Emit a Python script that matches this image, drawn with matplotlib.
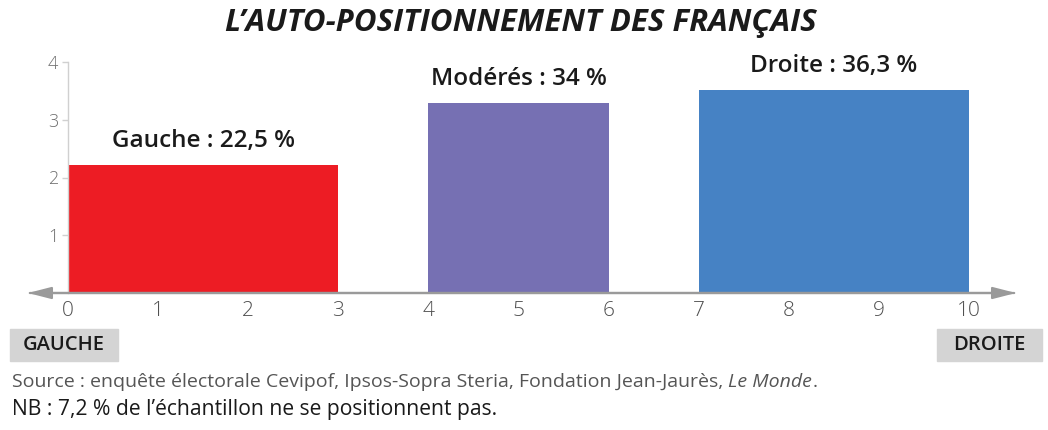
import matplotlib
matplotlib.use("Agg")
import matplotlib.pyplot as plt
from matplotlib.patches import FancyArrowPatch

# ---- data ----
groups = ["Gauche", "Modérés", "Droite"]
starts = [0, 4, 7]
ends = [3, 6, 10]
heights = [2.22, 3.29, 3.52]
labels = ["Gauche : 22,5 %", "Modérés : 34 %", "Droite : 36,3 %"]
colors = ["#ED1C24", "#7670B3", "#4682C4"]
xticks = list(range(0, 11))
yticks = [1, 2, 3, 4]
title = "L\u2019AUTO-POSITIONNEMENT DES FRANÇAIS"
source_a = "Source : enquête électorale Cevipof, Ipsos-Sopra Steria, Fondation Jean-Jaurès, "
source_b = "Le Monde"
source_c = "."
note = "NB : 7,2 % de l\u2019échantillon ne se positionnent pas."

FONT = "Open Sans"
W, H = 1048, 430
fig = plt.figure(figsize=(W / 100, H / 100), dpi=100)
fig.patch.set_facecolor("white")

def fx(px):
    return px / W

def fy(py):
    return 1 - py / H

# axes: x=0 at px 68, x=10 at px 969 ; y=0 at px 293, y=4 at px 62
ppu = (969 - 68) / 10.0
x_left_px, x_right_px = 28, 1016
xmin = (x_left_px - 68) / ppu
xmax = (x_right_px - 68) / ppu
ax = fig.add_axes([fx(x_left_px), fy(293), fx(x_right_px) - fx(x_left_px), (293 - 62) / H])
ax.set_xlim(xmin, xmax)
ax.set_ylim(0, 4)

for s, e, h, c in zip(starts, ends, heights, colors):
    ax.bar(s, h, width=e - s, align="edge", color=c, edgecolor="none", zorder=2)

for s, e, h, lab in zip(starts, ends, heights, labels):
    ax.text((s + e) / 2, h + 0.31, lab, ha="center", va="baseline",
            fontsize=17.5, fontweight="semibold", family=FONT, color="#1a1a1a")

for sp in ["top", "right", "bottom"]:
    ax.spines[sp].set_visible(False)
ax.spines["left"].set_position(("data", 0))
ax.spines["left"].set_color("#d0d0d0")
ax.spines["left"].set_linewidth(1.0)
ax.set_yticks(yticks)
ax.set_yticklabels([str(v) for v in yticks])
ax.tick_params(axis="y", length=4, width=1, color="#d0d0d0", labelsize=13,
               labelcolor="#707070", pad=3)
ax.set_xticks([])
for t in ax.get_yticklabels():
    t.set_family(FONT)
    t.set_fontweight("light")

# x axis with double arrow
style = "-|>,head_length=14,head_width=3.6"
for a, b in [((xmin + 0.02, 0), (xmax, 0)), ((xmax - 0.02, 0), (xmin, 0))]:
    ax.add_patch(FancyArrowPatch(a, b, arrowstyle=style, color="#9a9a9a", lw=1.6,
                                 mutation_scale=1, zorder=3, clip_on=False,
                                 shrinkA=0, shrinkB=0))

for v in xticks:
    ax.text(v, -0.14, str(v), ha="center", va="top", fontsize=15,
            family=FONT, fontweight="light", color="#505050", clip_on=False)

# title
fig.text(0.497, fy(23), title, ha="center", va="center", fontsize=22.5,
         fontweight="bold", fontstyle="italic", family=FONT, color="#1a1a1a")

# GAUCHE / DROITE boxes
fig.patches.append(plt.Rectangle((fx(10), fy(361)), fx(118) - fx(10), (361 - 329) / H,
                                 transform=fig.transFigure, color="#d4d4d4", zorder=0))
fig.text(fx(64), fy(345), "GAUCHE", ha="center", va="center", fontsize=14.5,
         fontweight="semibold", family=FONT, color="#1a1a1a")
fig.patches.append(plt.Rectangle((fx(937), fy(361)), fx(1042) - fx(937), (361 - 329) / H,
                                 transform=fig.transFigure, color="#d4d4d4", zorder=0))
fig.text(fx(989), fy(345), "DROITE", ha="center", va="center", fontsize=14.5,
         fontweight="semibold", family=FONT, color="#1a1a1a")

# source line with italic part
renderer = fig.canvas.get_renderer()
t1 = fig.text(fx(12), fy(382), source_a, ha="left", va="center", fontsize=14,
              family=FONT, color="#555555")
bb = t1.get_window_extent(renderer)
t2 = fig.text(bb.x1 / W, fy(382), source_b, ha="left", va="center", fontsize=14,
              family=FONT, fontstyle="italic", color="#555555")
bb2 = t2.get_window_extent(renderer)
fig.text(bb2.x1 / W, fy(382), source_c, ha="left", va="center", fontsize=14,
         family=FONT, color="#555555")

fig.text(fx(12), fy(409), note, ha="left", va="center", fontsize=15.2,
         family=FONT, color="#1a1a1a")

fig.savefig("out.png", dpi=100)
